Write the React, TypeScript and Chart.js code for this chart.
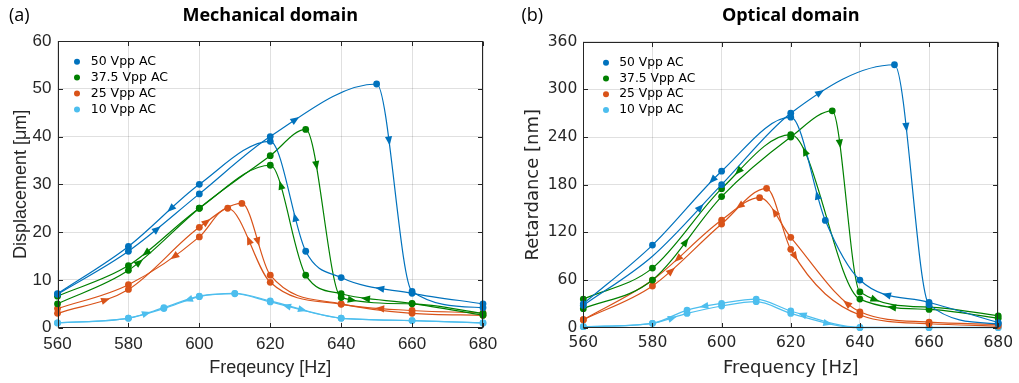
import React, { useEffect, useRef } from 'react';
import { Chart, registerables } from 'chart.js';
Chart.register(...registerables);

type Pt = [number, number];

const voltageLabels = ['50 Vpp AC', '37.5 Vpp AC', '25 Vpp AC', '10 Vpp AC'];
const seriesColors = ['#0072BD', '#008000', '#D95319', '#4DBEEE'];
const freqTicks = [560, 580, 600, 620, 640, 660, 680];
const mechTicks = [0, 10, 20, 30, 40, 50, 60];
const optTicks = [0, 60, 120, 180, 240, 300, 360];

// Mechanical domain, displacement [µm]; "Up" = increasing-frequency sweep, "Down" = decreasing
const mech50Up: Pt[] = [[560, 7], [580, 16], [600, 28], [620, 40], [650, 51], [660, 7.6], [680, 4.2]];
const mech50Down: Pt[] = [[560, 7.1], [580, 17], [600, 30], [620, 39], [630, 16], [640, 10.5], [660, 7.2], [680, 5]];
const mech37Up: Pt[] = [[560, 5], [580, 12], [600, 25], [620, 36], [630, 41.5], [640, 6.3], [660, 5], [680, 3]];
const mech37Down: Pt[] = [[560, 6.6], [580, 13], [600, 25], [620, 34], [630, 11], [640, 7.1], [660, 5.1], [680, 2.6]];
const mech25Up: Pt[] = [[560, 3], [580, 8], [600, 21], [612, 26], [620, 11], [640, 5], [660, 3], [680, 2.6]];
const mech25Down: Pt[] = [[560, 4], [580, 9], [600, 19], [608, 25], [620, 9.5], [640, 4.9], [660, 3.6], [680, 3.1]];
const mech10Up: Pt[] = [[560, 1], [580, 2], [590, 4.2], [600, 6.6], [610, 7.2], [620, 5.6], [640, 2], [660, 1.5], [680, 1]];
const mech10Down: Pt[] = [[560, 1], [580, 2], [590, 4], [600, 6.5], [610, 7.1], [620, 5.4], [640, 2], [660, 1.5], [680, 1]];

// sweep-direction arrow frequencies (mechanical)
const mech50UpArrows = [588, 627, 653.5];
const mech50DownArrows = [651, 627, 592];
const mech37UpArrows = [583, 633, 643];
const mech37DownArrows = [647, 623, 585];
const mech25UpArrows = [573.5, 602, 616.5];
const mech25DownArrows = [651, 614, 593];
const mech10UpArrows = [585, 629];
const mech10DownArrows = [624.7, 597];

// Optical domain, retardance [nm]
const opt50Up: Pt[] = [[560, 28], [580, 90], [600, 180], [620, 270], [650, 331], [660, 29], [680, 5]];
const opt50UpUnmarked = [580];
const opt50Down: Pt[] = [[560, 30], [580, 104], [600, 197], [620, 265], [630, 135], [640, 60], [660, 32], [680, 6.5]];
const opt37Up: Pt[] = [[560, 24], [580, 60], [600, 165], [620, 240], [632, 273], [640, 45], [660, 26], [680, 15]];
const opt37Down: Pt[] = [[560, 36], [580, 75], [600, 175], [620, 243], [640, 36], [660, 23], [680, 12]];
const opt25Up: Pt[] = [[560, 10], [580, 52.5], [600, 130.5], [613, 175.4], [620, 98.6], [640, 16], [660, 5], [680, 2]];
const opt25Down: Pt[] = [[560, 10], [580, 60], [600, 135.5], [611, 163.7], [620, 113.7], [640, 20], [660, 7], [680, 4]];
const opt10Up: Pt[] = [[560, 1.3], [580, 5.5], [590, 18], [600, 27.3], [610, 32.7], [620, 18], [640, 0], [660, 0], [680, 0]];
const opt10Down: Pt[] = [[560, 1.3], [580, 5.5], [590, 22.2], [600, 30.6], [610, 36], [620, 21], [640, 0.5], [660, 0.3], [680, 0.3]];

const opt50UpArrows = [593.8, 628.4, 653.4];
const opt50DownArrows = [647.8, 627.7, 597.4];
const opt37UpArrows = [589.6, 634.2, 644.3];
const opt37DownArrows = [649.3, 624.1, 604.9];
const opt25UpArrows = [585.4, 621.2];
const opt25DownArrows = [636.3, 615.4, 605.3, 587.4];
const opt10UpArrows = [585.7, 630.6];
const opt10DownArrows = [623.4, 595];

type Sweep = { pts: Pt[]; arrows: number[]; down: boolean; color: string; unmarked?: number[] };

interface PanelCfg {
  canvasLeft: number;
  width: number;
  padding: { left: number; right: number; top: number; bottom: number };
  yWidth: number;
  xHeight: number;
  yTicks: number[];
  letter: string;
  title: string;
  xTitle: string;
  yTitle: string;
  tickFont: any;
  titleFont: any;
  xTitlePad: number;
  yTitlePad: number;
  legendDx: number;
  legendTx: number;
  legendDy: number;
  legendStep: number;
  legendFont: string;
  letterX: number;
  sweeps: Sweep[];
}

const mechSweeps: Sweep[] = [
  { pts: mech50Up, arrows: mech50UpArrows, down: false, color: seriesColors[0] },
  { pts: mech50Down, arrows: mech50DownArrows, down: true, color: seriesColors[0] },
  { pts: mech37Up, arrows: mech37UpArrows, down: false, color: seriesColors[1] },
  { pts: mech37Down, arrows: mech37DownArrows, down: true, color: seriesColors[1] },
  { pts: mech25Up, arrows: mech25UpArrows, down: false, color: seriesColors[2] },
  { pts: mech25Down, arrows: mech25DownArrows, down: true, color: seriesColors[2] },
  { pts: mech10Up, arrows: mech10UpArrows, down: false, color: seriesColors[3] },
  { pts: mech10Down, arrows: mech10DownArrows, down: true, color: seriesColors[3] },
];

const optSweeps: Sweep[] = [
  { pts: opt50Up, arrows: opt50UpArrows, down: false, color: seriesColors[0], unmarked: opt50UpUnmarked },
  { pts: opt50Down, arrows: opt50DownArrows, down: true, color: seriesColors[0] },
  { pts: opt37Up, arrows: opt37UpArrows, down: false, color: seriesColors[1] },
  { pts: opt37Down, arrows: opt37DownArrows, down: true, color: seriesColors[1] },
  { pts: opt25Up, arrows: opt25UpArrows, down: false, color: seriesColors[2] },
  { pts: opt25Down, arrows: opt25DownArrows, down: true, color: seriesColors[2] },
  { pts: opt10Up, arrows: opt10UpArrows, down: false, color: seriesColors[3] },
  { pts: opt10Down, arrows: opt10DownArrows, down: true, color: seriesColors[3] },
];

const AXIS = '#262626';

function makePlugin(cfg: PanelCfg) {
  return {
    id: 'panelDecor',
    afterDatasetsDraw(chart: any) {
      const ctx = chart.ctx;
      const xs = chart.scales.x;
      cfg.sweeps.forEach((s, di) => {
        const pts = chart.getDatasetMeta(di).data;
        s.arrows.forEach((f) => {
          const px = xs.getPixelForValue(f);
          for (let i = 0; i < pts.length - 1; i++) {
            const a = pts[i], b = pts[i + 1];
            if (px >= a.x && px <= b.x) {
              const t = (px - a.x) / (b.x - a.x);
              const p0x = a.x, p0y = a.y;
              const p1x = a.cp2x ?? a.x, p1y = a.cp2y ?? a.y;
              const p2x = b.cp1x ?? b.x, p2y = b.cp1y ?? b.y;
              const p3x = b.x, p3y = b.y;
              const mt = 1 - t;
              const x = mt * mt * mt * p0x + 3 * mt * mt * t * p1x + 3 * mt * t * t * p2x + t * t * t * p3x;
              const y = mt * mt * mt * p0y + 3 * mt * mt * t * p1y + 3 * mt * t * t * p2y + t * t * t * p3y;
              const dx = 3 * mt * mt * (p1x - p0x) + 6 * mt * t * (p2x - p1x) + 3 * t * t * (p3x - p2x);
              const dy = 3 * mt * mt * (p1y - p0y) + 6 * mt * t * (p2y - p1y) + 3 * t * t * (p3y - p2y);
              let ang = Math.atan2(dy, dx);
              if (s.down) ang += Math.PI;
              ctx.save();
              ctx.translate(x, y);
              ctx.rotate(ang);
              ctx.beginPath();
              ctx.moveTo(5, 0);
              ctx.lineTo(-4, -3.6);
              ctx.lineTo(-4, 3.6);
              ctx.closePath();
              ctx.fillStyle = s.color;
              ctx.fill();
              ctx.restore();
              break;
            }
          }
        });
      });
    },
    afterDraw(chart: any) {
      const ctx = chart.ctx;
      const ca = chart.chartArea;
      const xs = chart.scales.x, ys = chart.scales.y;
      ctx.save();
      ctx.strokeStyle = AXIS;
      ctx.lineWidth = 1;
      const L = Math.round(ca.left) + 0.5, R = Math.round(ca.right) - 0.5;
      const T = Math.round(ca.top) + 0.5, B = Math.round(ca.bottom) - 0.5;
      ctx.strokeRect(L, T, R - L, B - T);
      const tl = 4.5;
      ctx.beginPath();
      xs.ticks.forEach((tk: any) => {
        const px = Math.round(xs.getPixelForValue(tk.value)) + 0.5;
        ctx.moveTo(px, B); ctx.lineTo(px, B - tl);
        ctx.moveTo(px, T); ctx.lineTo(px, T + tl);
      });
      ys.ticks.forEach((tk: any) => {
        const py = Math.round(ys.getPixelForValue(tk.value)) + 0.5;
        ctx.moveTo(L, py); ctx.lineTo(L + tl, py);
        ctx.moveTo(R, py); ctx.lineTo(R - tl, py);
      });
      ctx.stroke();
      ctx.font = cfg.legendFont;
      ctx.textBaseline = 'middle';
      ctx.textAlign = 'left';
      voltageLabels.forEach((lab, i) => {
        const y = ca.top + cfg.legendDy + i * cfg.legendStep;
        ctx.fillStyle = seriesColors[i];
        ctx.beginPath();
        ctx.arc(ca.left + cfg.legendDx, y, 3, 0, Math.PI * 2);
        ctx.fill();
        ctx.fillStyle = '#000';
        ctx.fillText(lab, ca.left + cfg.legendTx, y);
      });
      ctx.fillStyle = '#000';
      ctx.textAlign = 'center';
      ctx.font = 'bold 18px "Open Sans"';
      ctx.fillText(cfg.title, (ca.left + ca.right) / 2, 16);
      ctx.textAlign = 'left';
      ctx.font = '18px "Open Sans"';
      ctx.fillText(cfg.letter, cfg.letterX, 16);
      ctx.restore();
    },
  };
}

function buildConfig(cfg: PanelCfg): any {
  return {
    type: 'line',
    data: {
      datasets: cfg.sweeps.map((s) => ({
        data: s.pts.map(([x, y]) => ({ x, y })),
        borderColor: s.color,
        backgroundColor: s.color,
        pointBackgroundColor: s.color,
        pointBorderWidth: 0,
        pointRadius: s.pts.map(([x]) => (s.unmarked && s.unmarked.includes(x) ? 0 : 3.4)),
        pointHoverRadius: 0,
        borderWidth: 1.2,
        cubicInterpolationMode: 'monotone',
        fill: false,
        clip: 8,
      })),
    },
    options: {
      responsive: false,
      animation: false,
      devicePixelRatio: 1,
      events: [],
      layout: { padding: cfg.padding },
      plugins: { legend: { display: false }, title: { display: false }, tooltip: { enabled: false } },
      scales: {
        x: {
          type: 'linear',
          min: freqTicks[0],
          max: freqTicks[freqTicks.length - 1],
          afterBuildTicks: (s: any) => { s.ticks = freqTicks.map((v) => ({ value: v })); },
          afterFit: (s: any) => { s.height = cfg.xHeight; },
          grid: { color: 'rgba(0,0,0,0.12)', drawTicks: false, lineWidth: 1 },
          border: { display: false },
          ticks: { color: AXIS, font: cfg.tickFont, padding: 6, maxRotation: 0, autoSkip: false },
          title: { display: true, text: cfg.xTitle, color: AXIS, font: cfg.titleFont, padding: { top: 0, bottom: cfg.xTitlePad } },
        },
        y: {
          type: 'linear',
          min: cfg.yTicks[0],
          max: cfg.yTicks[cfg.yTicks.length - 1],
          afterBuildTicks: (s: any) => { s.ticks = cfg.yTicks.map((v) => ({ value: v })); },
          afterFit: (s: any) => { s.width = cfg.yWidth; },
          grid: { color: 'rgba(0,0,0,0.12)', drawTicks: false, lineWidth: 1 },
          border: { display: false },
          ticks: { color: AXIS, font: cfg.tickFont, padding: 6, autoSkip: false },
          title: { display: true, text: cfg.yTitle, color: AXIS, font: cfg.titleFont, padding: { top: cfg.yTitlePad, bottom: 0 } },
        },
      },
    },
    plugins: [makePlugin(cfg)],
  };
}

const mechCfg: PanelCfg = {
  canvasLeft: 0,
  width: 510,
  padding: { left: 0, right: 27, top: 41, bottom: 0 },
  yWidth: 57.5,
  xHeight: 55.3,
  yTicks: mechTicks,
  letter: '(a)',
  title: 'Mechanical domain',
  xTitle: 'Freqeuncy [Hz]',
  yTitle: 'Displacement [\u03bcm]',
  tickFont: { family: '"Liberation Sans", Arial, sans-serif', size: 17 },
  titleFont: { family: '"Liberation Sans", Arial, sans-serif', size: 18 },
  xTitlePad: 3.8,
  yTitlePad: 10.2,
  legendDx: 19.5,
  legendTx: 33.2,
  legendDy: 20.7,
  legendStep: 15.9,
  legendFont: '12.5px "DejaVu Sans"',
  letterX: 9,
  sweeps: mechSweeps,
};

const optCfg: PanelCfg = {
  canvasLeft: 510,
  width: 509,
  padding: { left: 0, right: 19, top: 41.7, bottom: 0 },
  yWidth: 73.3,
  xHeight: 55.3,
  yTicks: optTicks,
  letter: '(b)',
  title: 'Optical domain',
  xTitle: 'Frequency [Hz]',
  yTitle: 'Retardance [nm]',
  tickFont: { family: '"DejaVu Sans", Verdana, sans-serif', size: 15.5 },
  titleFont: { family: '"DejaVu Sans", Verdana, sans-serif', size: 18 },
  xTitlePad: 3.5,
  yTitlePad: 12.5,
  legendDx: 22.7,
  legendTx: 36,
  legendDy: 21,
  legendStep: 15.8,
  legendFont: '12.3px "DejaVu Sans"',
  letterX: 11.5,
  sweeps: optSweeps,
};

function Panel({ cfg }: { cfg: PanelCfg }) {
  const ref = useRef<HTMLCanvasElement>(null);
  useEffect(() => {
    const chart = new Chart(ref.current as HTMLCanvasElement, buildConfig(cfg));
    return () => chart.destroy();
  }, [cfg]);
  return (
    <canvas
      ref={ref}
      width={cfg.width}
      height={383}
      style={{ position: 'absolute', left: cfg.canvasLeft, top: 0, width: cfg.width, height: 383 }}
    />
  );
}

export default function App() {
  return (
    <div style={{ position: 'absolute', left: 0, top: 0, width: 1019, height: 383, background: '#fff' }}>
      <Panel cfg={mechCfg} />
      <Panel cfg={optCfg} />
    </div>
  );
}
